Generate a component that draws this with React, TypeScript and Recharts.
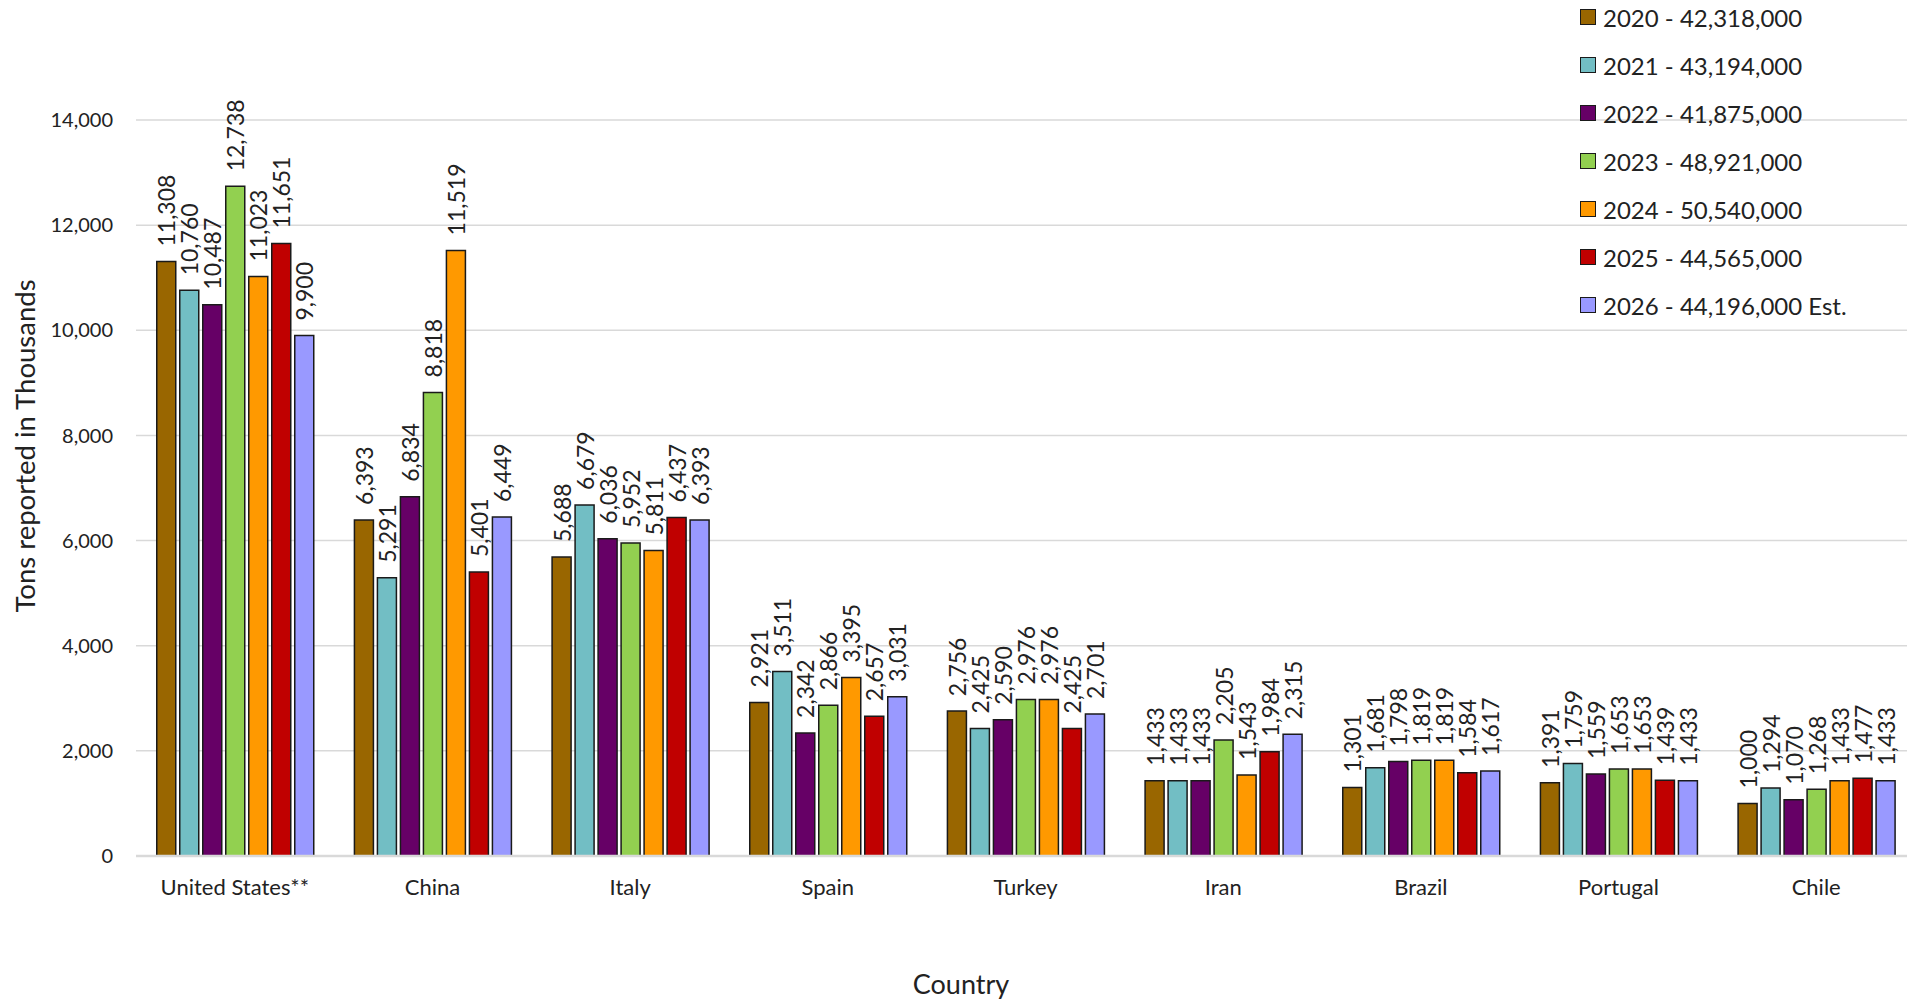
import { BarChart, Bar, XAxis, YAxis, CartesianGrid, LabelList } from 'recharts';

const countries = ['United States**', 'China', 'Italy', 'Spain', 'Turkey', 'Iran', 'Brazil', 'Portugal', 'Chile'];

const y2020 = [11308, 6393, 5688, 2921, 2756, 1433, 1301, 1391, 1000];
const y2021 = [10760, 5291, 6679, 3511, 2425, 1433, 1681, 1759, 1294];
const y2022 = [10487, 6834, 6036, 2342, 2590, 1433, 1798, 1559, 1070];
const y2023 = [12738, 8818, 5952, 2866, 2976, 2205, 1819, 1653, 1268];
const y2024 = [11023, 11519, 5811, 3395, 2976, 1543, 1819, 1653, 1433];
const y2025 = [11651, 5401, 6437, 2657, 2425, 1984, 1584, 1439, 1477];
const y2026 = [9900, 6449, 6393, 3031, 2701, 2315, 1617, 1433, 1433];

const seriesNames = [
  '2020 - 42,318,000',
  '2021 - 43,194,000',
  '2022 - 41,875,000',
  '2023 - 48,921,000',
  '2024 - 50,540,000',
  '2025 - 44,565,000',
  '2026 - 44,196,000 Est.',
];
const seriesValues = [y2020, y2021, y2022, y2023, y2024, y2025, y2026];
const seriesColors = ['#996600', '#72BEC4', '#660066', '#92D050', '#FF9900', '#C00000', '#9999FF'];

const yTicks = [0, 2000, 4000, 6000, 8000, 10000, 12000, 14000];

const data = countries.map((country, i) => {
  const row: Record<string, string | number> = { country };
  seriesValues.forEach((vals, s) => {
    row[`s${s}`] = vals[i];
  });
  return row;
});

const FONT = 'Lato, "Noto Sans", sans-serif';
const fmt = (v: number) => v.toLocaleString('en-US');

function RotatedLabel(props: any) {
  const { x, y, width, value } = props;
  const cx = Number(x) + Number(width) / 2;
  const cy = Number(y) - 15;
  return (
    <text
      x={cx}
      y={cy}
      transform={`rotate(-90 ${cx} ${cy})`}
      textAnchor="start"
      dominantBaseline="central"
      fontSize={23}
      fontFamily={FONT}
      fill="#222"
    >
      {fmt(Number(value))}
    </text>
  );
}

export default function App() {
  return (
    <div style={{ position: 'absolute', left: 0, top: 0, width: 1907, height: 999, background: '#fff', overflow: 'hidden' }}>
      <BarChart
        width={1907}
        height={999}
        data={data}
        margin={{ top: 120, right: -8, bottom: 0, left: 0 }}
        barCategoryGap="10.5%"
        barGap={4}
      >
        <CartesianGrid vertical={false} stroke="#d9d9d9" strokeWidth={1.5} />
        <XAxis
          dataKey="country"
          height={143}
          tickLine={false}
          tickSize={0}
          tickMargin={23}
          axisLine={{ stroke: '#d9d9d9', strokeWidth: 2.5 }}
          tick={{ fontSize: 22, fontFamily: FONT, fill: '#222' }}
          interval={0}
          label={{
            content: () => (
              <text x={961} y={983} textAnchor="middle" dominantBaseline="central" fontSize={27} fontFamily={FONT} fill="#222">
                Country
              </text>
            ),
          }}
        />
        <YAxis
          width={136}
          domain={[0, 14000]}
          ticks={yTicks}
          tickFormatter={fmt}
          tickLine={false}
          axisLine={false}
          tickSize={0}
          tickMargin={23}
          tick={{ fontSize: 20, fontFamily: FONT, fill: '#222' }}
          label={{
            content: () => (
              <text
                x={24}
                y={446}
                transform="rotate(-90 24 446)"
                textAnchor="middle"
                dominantBaseline="central"
                fontSize={27.5}
                fontFamily={FONT}
                fill="#222"
              >
                Tons reported in Thousands
              </text>
            ),
          }}
        />
        {seriesNames.map((name, s) => (
          <Bar
            key={name}
            dataKey={`s${s}`}
            name={name}
            fill={seriesColors[s]}
            stroke="#1a1a1a"
            strokeWidth={1.5}
            isAnimationActive={false}
          >
            <LabelList dataKey={`s${s}`} content={RotatedLabel} />
          </Bar>
        ))}
      </BarChart>
      <div style={{ position: 'absolute', left: 1580, top: 0, fontFamily: FONT, fontSize: 24, color: '#222' }}>
        {seriesNames.map((name, s) => (
          <div key={name} style={{ position: 'absolute', top: 17 + s * 48 - 15, left: 0, height: 30, display: 'flex', alignItems: 'center', whiteSpace: 'nowrap' }}>
            <div style={{ width: 14, height: 14, background: seriesColors[s], border: '1.5px solid #1a1a1a', marginRight: 7 }} />
            <span>{name}</span>
          </div>
        ))}
      </div>
    </div>
  );
}
